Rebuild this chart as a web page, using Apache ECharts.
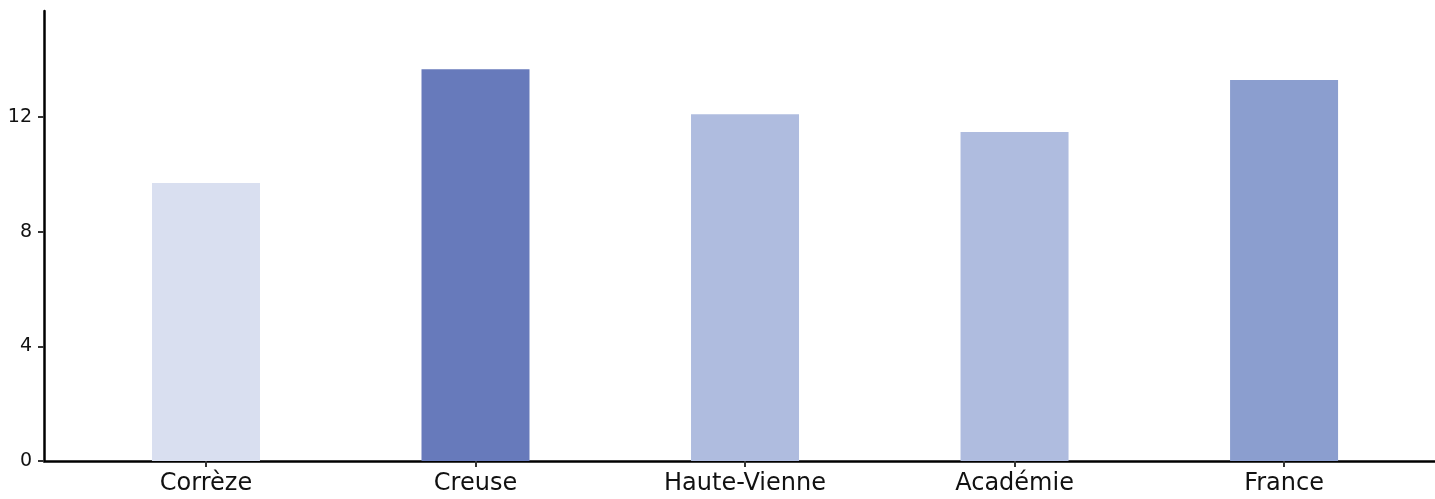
<!DOCTYPE html>
<html>
<head>
<meta charset="utf-8">
<script src="https://cdn.jsdelivr.net/npm/echarts@6/dist/echarts.min.js"></script>
<style>
  html, body { margin: 0; padding: 0; background: #ffffff; }
  #chart { width: 1435px; height: 499px; }
</style>
</head>
<body>
<div id="chart"></div>
<script>
// Territories shown along the horizontal axis
const categories = ['Corrèze', 'Creuse', 'Haute-Vienne', 'Académie', 'France'];
// Value per territory
const values = [9.7, 13.67, 12.1, 11.48, 13.29];
// Fill colour per territory
const barColors = ['#d9dff0', '#677abb', '#afbcdf', '#afbcdf', '#8b9ecf'];
// Vertical axis tick values
const yTicks = [0, 4, 8, 12];
// Horizontal positions of the categories (index on the value axis)
const xTicks = categories.map((_, i) => i);

const chart = echarts.init(document.getElementById('chart'));

chart.setOption({
  animation: false,
  textStyle: { fontFamily: '"DejaVu Sans", sans-serif' },
  grid: { left: 44, right: 0, top: 11, bottom: 38, containLabel: false },
  xAxis: {
    type: 'value',
    min: -0.601,
    max: 4.56,
    splitLine: { show: false },
    axisLine: { show: true, onZero: false, lineStyle: { color: '#000000', width: 2.5 } },
    axisTick: {
      show: true,
      customValues: xTicks,
      length: 6,
      lineStyle: { color: '#333333', width: 2 }
    },
    axisLabel: {
      customValues: xTicks,
      formatter: (v) => categories[Math.round(v)],
      color: '#111111',
      fontSize: 24,
      margin: 11
    }
  },
  yAxis: {
    type: 'value',
    min: 0,
    max: 15.7,
    splitLine: { show: false },
    axisLine: { show: true, onZero: false, lineStyle: { color: '#000000', width: 2.5 } },
    axisTick: {
      show: true,
      customValues: yTicks,
      length: 6,
      lineStyle: { color: '#333333', width: 2 }
    },
    axisLabel: {
      customValues: yTicks,
      color: '#111111',
      fontSize: 19,
      margin: 12
    }
  },
  series: [{
    type: 'bar',
    barWidth: 108,
    data: values.map((v, i) => ({
      value: [i, v],
      itemStyle: { color: barColors[i] }
    }))
  }]
});
</script>
</body>
</html>
